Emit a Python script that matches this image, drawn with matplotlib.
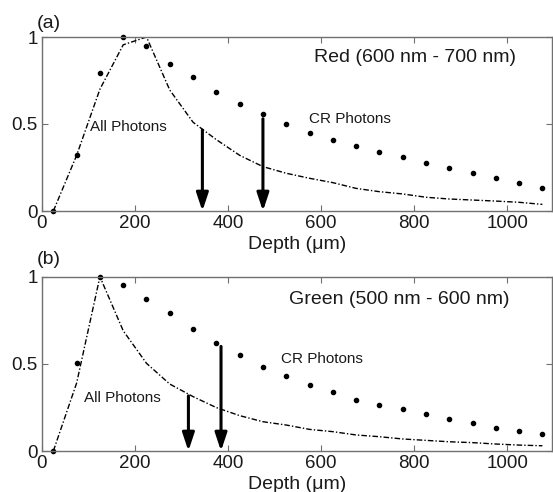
import matplotlib
matplotlib.use("Agg")
import matplotlib.pyplot as plt

plt.rcParams['font.family'] = ['Liberation Sans', 'DejaVu Sans']

depth = [25, 75, 125, 175, 225, 275, 325, 375, 425, 475, 525, 575, 625,
         675, 725, 775, 825, 875, 925, 975, 1025, 1075]

# Panel (a): Red
red_all = [0.0, 0.32, 0.70, 0.955, 1.0, 0.695, 0.51, 0.41, 0.32, 0.255, 0.217,
           0.188, 0.163, 0.13, 0.111, 0.098, 0.079, 0.069, 0.063, 0.057, 0.05, 0.038]
red_cr = [0.0, 0.32, 0.795, 1.0, 0.95, 0.845, 0.768, 0.686, 0.617, 0.557, 0.50,
          0.45, 0.408, 0.375, 0.337, 0.31, 0.278, 0.249, 0.218, 0.19, 0.163, 0.134]
red_arrow_x = [345, 475]
red_arrow_top = [0.465, 0.53]

# Panel (b): Green
green_all = [0.0, 0.39, 1.0, 0.69, 0.503, 0.384, 0.312, 0.249, 0.203, 0.168, 0.149,
             0.124, 0.111, 0.092, 0.082, 0.069, 0.061, 0.053, 0.048, 0.04, 0.034, 0.03]
green_cr = [0.0, 0.503, 1.0, 0.952, 0.872, 0.79, 0.70, 0.618, 0.549, 0.48, 0.43,
            0.379, 0.337, 0.293, 0.266, 0.239, 0.212, 0.184, 0.161, 0.132, 0.113, 0.096]
green_arrow_x = [315, 385]
green_arrow_top = [0.316, 0.60]

xticks = [0, 200, 400, 600, 800, 1000]
yticks = [0, 0.5, 1]
ytick_labels = ['0', '0.5', '1']

W, H = 553, 492
fig = plt.figure(figsize=(W / 100, H / 100), dpi=100)

panels = [
    dict(rect=[41.7 / W, 1 - 211 / H, 510 / W, 174 / H], all=red_all, cr=red_cr,
         ax_x=red_arrow_x, ax_top=red_arrow_top, tag='(a)', tag_y=1.08,
         title='Red (600 nm - 700 nm)', title_xy=(801, 0.88),
         allpos=(104, 0.48), crpos=(573, 0.53)),
    dict(rect=[41.7 / W, 1 - 451 / H, 510 / W, 174.3 / H], all=green_all, cr=green_cr,
         ax_x=green_arrow_x, ax_top=green_arrow_top, tag='(b)', tag_y=1.096,
         title='Green (500 nm - 600 nm)', title_xy=(768, 0.87),
         allpos=(91, 0.306), crpos=(514, 0.526)),
]

spine_col = '#707070'
text_col = '#1a1a1a'
for p in panels:
    ax = fig.add_axes(p['rect'])
    ax.plot(depth, p['all'], color='black', lw=1.0, linestyle=(0, (4, 1.5, 1, 1.5)))
    ax.plot(depth, p['cr'], linestyle='none', marker='o', markersize=3.0,
            color='black', clip_on=False)
    for xa, ya in zip(p['ax_x'], p['ax_top']):
        ax.annotate('', xy=(xa, 0), xytext=(xa, ya),
                    arrowprops=dict(arrowstyle='-|>,head_length=0.9,head_width=0.3',
                                    lw=2.2, color='black', mutation_scale=12,
                                    shrinkA=0, shrinkB=0))
    ax.set_xlim(0, 1095)
    ax.set_ylim(0, 1)
    ax.set_xticks(xticks)
    ax.set_yticks(yticks)
    ax.set_yticklabels(ytick_labels)
    ax.tick_params(direction='in', length=4, width=0.8, color=spine_col,
                   labelcolor=text_col, top=True, right=True, labelsize=13.5, pad=3)
    for s in ax.spines.values():
        s.set_color(spine_col)
        s.set_linewidth(1.0)
    ax.set_xlabel('Depth (\u03bcm)', fontsize=14, labelpad=3, color=text_col)
    ax.text(p['title_xy'][0], p['title_xy'][1], p['title'], fontsize=14,
            ha='center', va='center', color=text_col)
    ax.text(p['allpos'][0], p['allpos'][1], 'All Photons', fontsize=11,
            ha='left', va='center', color=text_col)
    ax.text(p['crpos'][0], p['crpos'][1], 'CR Photons', fontsize=11,
            ha='left', va='center', color=text_col)
    ax.text(-0.009, p['tag_y'], p['tag'], fontsize=14, ha='left', va='center',
            transform=ax.transAxes, color=text_col)

fig.savefig('out.png', dpi=100)
